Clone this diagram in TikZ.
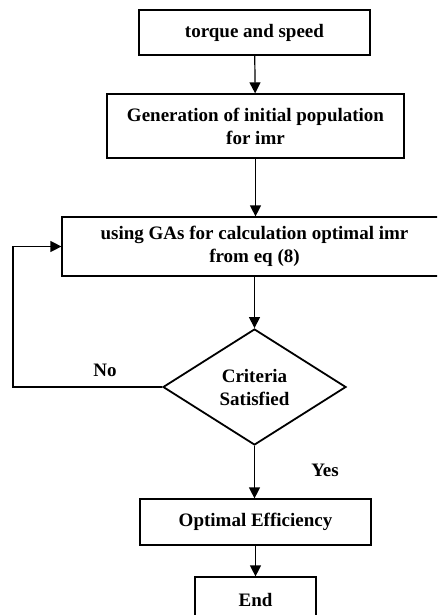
\documentclass[tikz,border=0pt]{standalone}
\usepackage{fontspec}
\setmainfont{Liberation Serif}
\usetikzlibrary{arrows.meta}
\usetikzlibrary{shapes.geometric}

\begin{document}
\begin{tikzpicture}[x=1pt,y=-1pt,
            every node/.style={font=\fontsize{19}{23}\selectfont\bfseries, align=center},
            block/.style={draw, line width=1.2pt, inner sep=0pt},
            decision/.style={draw, diamond, line width=1.8pt, inner sep=0pt, aspect=1.58},
            flow/.style={line width=1.2pt, -{Triangle[length=11pt,width=11pt]}}]
            \useasboundingbox (0,0) rectangle (437,615);
            \clip (0,0) rectangle (437,615);
            \node[block, minimum width=231pt, minimum height=45pt] (input) at (254.5,32.5) {torque and speed};
            \node[block, minimum width=297pt, minimum height=64pt] (init) at (255.5,126) {Generation of initial population\\for imr};
            \node[block, minimum width=385pt, minimum height=59pt] (ga) at (254.5,246.5) {using GAs for calculation optimal imr\\from eq (8)};
            \node[decision, minimum width=183pt, minimum height=116pt] (crit) at (254.5,387) {Criteria\\Satisfied};
            \node[block, minimum width=231pt, minimum height=46pt] (best) at (255.5,522) {Optimal Efficiency};
            \node[block, minimum width=121pt, minimum height=46pt] (stop) at (255.5,600) {End};
            \coordinate (back) at (13,387);
            \draw[flow] (input) -- (init);
            \draw[flow] (init.south) -- (init.south |- ga.north);
            \draw[flow] (ga.south -| crit.north) -- (crit.north);
            \draw[flow] (crit.west) -- (back) |- (ga.west);
            \draw[flow] (crit.south) -- (crit.south |- best.north);
            \draw[flow] (best.south) -- (best.south |- stop.north);
            \node (no) at (105,370) {No};
            \node (yes) at (325,470) {Yes};
        \end{tikzpicture}
\end{document}
